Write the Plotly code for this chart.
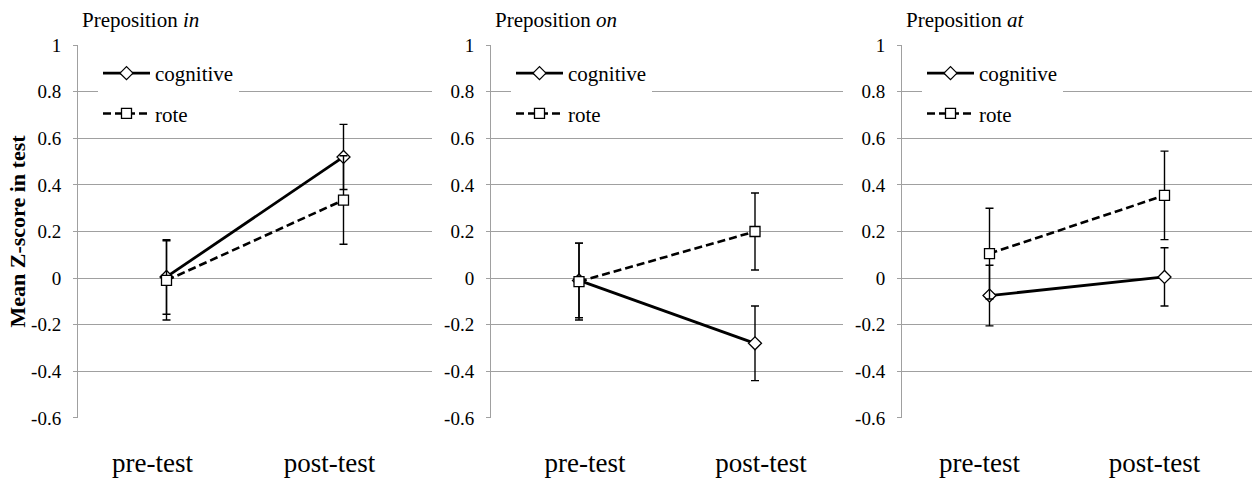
import plotly.graph_objects as go

# ---------------------------------------------------------------------------
# Data
# ---------------------------------------------------------------------------

categories = ["pre-test", "post-test"]
prepositions = ["in", "on", "at"]

cognitive_mean = [[0.005, 0.52], [-0.01, -0.28], [-0.075, 0.005]]
cognitive_err = [[0.16, 0.14], [0.16, 0.16], [0.13, 0.125]]
rote_mean = [[-0.01, 0.335], [-0.015, 0.20], [0.105, 0.355]]
rote_err = [[0.17, 0.19], [0.165, 0.165], [0.195, 0.19]]

y_tickvals = [-0.6, -0.4, -0.2, 0, 0.2, 0.4, 0.6, 0.8, 1]
y_ticktext = ["-0.6", "-0.4", "-0.2", "0", "0.2", "0.4", "0.6", "0.8", "1"]

# ---------------------------------------------------------------------------
# Layout constants
# ---------------------------------------------------------------------------

W, H = 1252, 485
FONT = "Liberation Serif, Times New Roman, serif"
GRID = "#a0a0a0"
Y_RANGE = [-0.6005, 1.0005]

# plot area in pixels: (left, right) and a small nudge for the category labels
panel_px = [(78, 432), (491, 843), (902, 1252)]
label_shift = [-14, 6, -10]
top_px, bottom_px = 45, 418
y_dom = [1 - bottom_px / H, 1 - top_px / H]
zero_pos = y_dom[0] + (0 - Y_RANGE[0]) / (Y_RANGE[1] - Y_RANGE[0]) * (y_dom[1] - y_dom[0])

fig = go.Figure()

for i, prep in enumerate(prepositions):
    n = "" if i == 0 else str(i + 1)
    legend_id = "legend" + n
    fig.add_trace(go.Scatter(
        x=categories, y=cognitive_mean[i], name="cognitive",
        xaxis="x" + n, yaxis="y" + n, legend=legend_id, legendgroup=f"c{i}",
        mode="lines+markers",
        line=dict(color="black", width=2.8),
        marker=dict(symbol="diamond", size=10, color="white",
                    line=dict(color="black", width=1.3)),
        error_y=dict(type="data", array=cognitive_err[i], color="black",
                     thickness=1.4, width=4),
    ))
    fig.add_trace(go.Scatter(
        x=categories, y=rote_mean[i], name="rote",
        xaxis="x" + n, yaxis="y" + n, legend=legend_id, legendgroup=f"r{i}",
        mode="lines+markers",
        line=dict(color="black", width=2.6, dash="8px,4px"),
        marker=dict(symbol="square", size=10, color="white",
                    line=dict(color="black", width=1.3)),
        error_y=dict(type="data", array=rote_err[i], color="black",
                     thickness=1.4, width=4),
    ))

    left, right = panel_px[i]
    x_dom = [left / W, min(right / W, 1.0)]

    fig.update_layout({
        "xaxis" + n: dict(
            domain=x_dom, anchor="y" + n, type="category",
            categoryarray=categories, range=[-0.5, 1.5],
            showgrid=False, showline=False, zeroline=False, ticks="",
            tickfont=dict(family=FONT, size=27, color="black"),
            ticklabelstandoff=26, ticklabelshift=label_shift[i],
        ),
        "yaxis" + n: dict(
            domain=y_dom, anchor="x" + n, range=Y_RANGE,
            tickvals=y_tickvals, ticktext=y_ticktext,
            showgrid=True, gridcolor=GRID, gridwidth=1,
            zeroline=False, showline=True, linecolor=GRID, linewidth=1,
            ticks="outside", ticklen=4, tickcolor=GRID,
            tickfont=dict(family=FONT, size=19, color="black"),
            ticklabelstandoff=8,
        ),
        # horizontal axis line crossing at zero with boundary tick marks
        "xaxis" + str(i + 4): dict(
            overlaying="x" + n, anchor="free", position=zero_pos, side="bottom",
            range=[-0.5, 1.5], tickvals=[-0.5, 0.5, 1.5],
            showticklabels=False, showgrid=False, zeroline=False,
            showline=True, linecolor=GRID, linewidth=1,
            ticks="outside", ticklen=5, tickcolor=GRID,
        ),
        legend_id: dict(
            x=(left + 20) / W, y=1 - 53 / H, xanchor="left", yanchor="top",
            bgcolor="white", borderwidth=0,
            font=dict(family=FONT, size=21, color="black"),
            itemwidth=47, tracegroupgap=10, traceorder="grouped",
        ),
    })

    fig.add_annotation(
        text=f"Preposition <i>{prep}</i>", xref="paper", yref="paper",
        x=(left + 2) / W, y=1 - 20 / H, xanchor="left", yanchor="middle",
        showarrow=False, font=dict(family=FONT, size=21, color="black"),
    )

fig.add_annotation(
    text="<b>Mean Z-score in test</b>", xref="paper", yref="paper",
    x=17 / W, y=(y_dom[0] + y_dom[1]) / 2, xanchor="center", yanchor="middle",
    textangle=-90, showarrow=False,
    font=dict(family=FONT, size=22, color="black"),
)

fig.update_layout(
    width=W, height=H,
    margin=dict(l=0, r=0, t=0, b=0, autoexpand=False),
    paper_bgcolor="white", plot_bgcolor="white",
    showlegend=True,
)

fig.write_html(
    "out.html",
    config={"displayModeBar": False},
    post_script="document.body.style.margin = '0';",
)
